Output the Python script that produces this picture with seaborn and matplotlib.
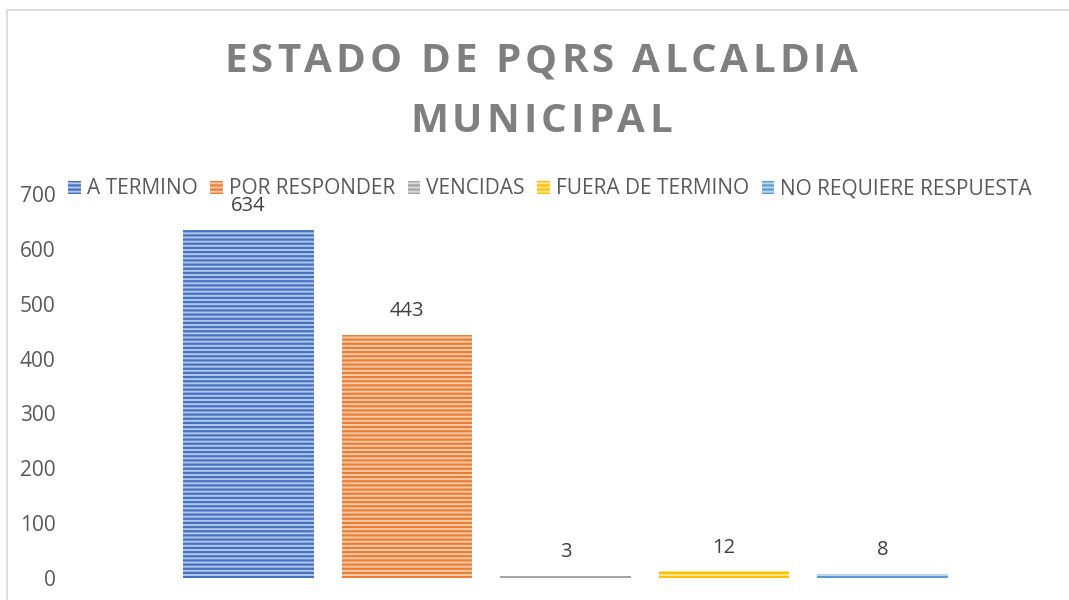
import matplotlib
matplotlib.use('Agg')
import matplotlib.pyplot as plt
import seaborn as sns
import pandas as pd
from matplotlib.patches import Rectangle, Patch
from matplotlib.colors import to_rgb

# datos
estados = ['A TERMINO', 'POR RESPONDER', 'VENCIDAS', 'FUERA DE TERMINO', 'NO REQUIERE RESPUESTA']
cantidades = [634, 443, 3, 12, 8]
colores = ['#4472C4', '#ED7D31', '#A5A5A5', '#FFC000', '#5B9BD5']
titulo = ['ESTADO DE PQRS ALCALDIA', 'MUNICIPAL']

df = pd.DataFrame({'estado': estados, 'cantidad': cantidades})

sns.set_style('white')
plt.rcParams['font.family'] = ['Open Sans', 'DejaVu Sans']
plt.rcParams['hatch.linewidth'] = 1.6

fig = plt.figure(figsize=(10.69, 6), dpi=100)
ax = fig.add_axes([68 / 1069, 22 / 600, 992 / 1069, 384 / 600])

sns.barplot(data=df, x='estado', y='cantidad', hue='estado', palette=colores,
            width=0.826, legend=False, ax=ax, saturation=1)


def aclarar(c, f=0.6):
    r, g, b = to_rgb(c)
    return (r + (1 - r) * f, g + (1 - g) * f, b + (1 - b) * f)


# patron de rayas horizontales
for barra, c in zip(ax.patches, colores):
    barra.set_facecolor(aclarar(c))
    barra.set_edgecolor(c)
    barra.set_linewidth(0)
    barra.set_hatch('----')

# etiquetas de datos
for i, v in enumerate(cantidades):
    ax.annotate(str(v), (i, v), xytext=(0, 10), textcoords='offset points',
                ha='center', va='bottom', fontsize=14.5, color='#404040')

ax.set_xlim(-1.139, 5.12)
ax.set_ylim(0, 700)
ax.set_yticks(range(0, 701, 100))
ax.tick_params(axis='y', labelsize=15, labelcolor='#595959', length=0, pad=9)
ax.set_xticks([])
ax.set_xlabel('')
ax.set_ylabel('')
sns.despine(ax=ax, left=True, bottom=True, top=True, right=True)

# leyenda
handles = [Patch(facecolor=aclarar(c), edgecolor=c, hatch='----', linewidth=0) for c in colores]
fig.legend(handles, estados, loc='center left', bbox_to_anchor=(68 / 1069, 1 - 189 / 600),
           ncol=5, frameon=False, fontsize=15, labelcolor='#595959',
           handlelength=0.6, handleheight=0.6, handletextpad=0.3, columnspacing=0.6,
           borderaxespad=0, borderpad=0)

# titulo con espaciado entre letras
fig.canvas.draw()
renderer = fig.canvas.get_renderer()


def texto_espaciado(linea, xc, yc, ancho_total, size):
    piezas = []
    for ch in linea:
        t = fig.text(0, 0, ch, fontsize=size, fontweight='bold', color='#7F7F7F',
                     ha='left', va='center')
        piezas.append(t)
    anchos = []
    for t in piezas:
        if t.get_text() == ' ':
            anchos.append(size * 100 / 72 * 0.26)
        else:
            anchos.append(t.get_window_extent(renderer).width)
    extra = (ancho_total - sum(anchos)) / (len(linea) - 1)
    x = xc - ancho_total / 2
    for t, w in zip(piezas, anchos):
        t.set_position((x / 1069, 1 - yc / 600))
        x += w + extra


texto_espaciado(titulo[0], 541, 62, 634, 29)
texto_espaciado(titulo[1], 541, 122, 262, 29)

# borde del grafico
fig.patches.append(Rectangle((7 / 1069, -0.1), 1.1, 1 - 10 / 600 + 0.1, transform=fig.transFigure,
                             fill=False, edgecolor='#D9D9D9', linewidth=1.2))

plt.savefig('out.png', dpi=100)
